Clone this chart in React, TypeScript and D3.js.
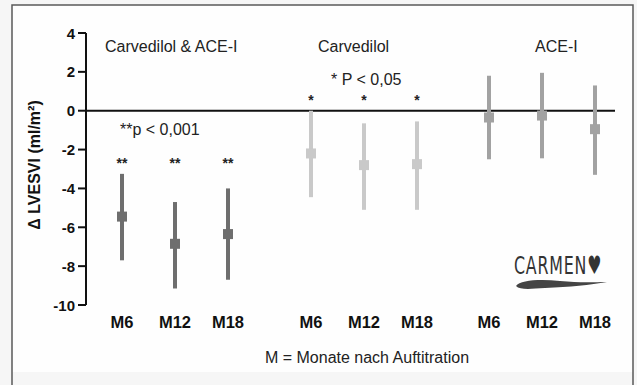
import React from 'react';
import * as d3 from 'd3';

// groups, time points and values (delta LVESVI, ml/m²)
const groups = ['Carvedilol & ACE-I', 'Carvedilol', 'ACE-I'];
const months = ['M6', 'M12', 'M18'];
const meanValues = [
  [-5.45, -6.85, -6.35],
  [-2.2, -2.8, -2.75],
  [-0.35, -0.25, -0.95],
];
const upperValues = [
  [-3.25, -4.7, -4.0],
  [0.0, -0.65, -0.55],
  [1.8, 1.95, 1.3],
];
const lowerValues = [
  [-7.7, -9.15, -8.7],
  [-4.45, -5.1, -5.1],
  [-2.5, -2.45, -3.3],
];
const significance = ['**', '*', ''];
const yTicks = [4, 2, 0, -2, -4, -6, -8, -10];
const groupColors = ['#6e6e6e', '#c9c9c9', '#a2a2a2'];

const W = 637;
const H = 385;
const FONT = 'Liberation Sans, Arial, sans-serif';

export default function App() {
  const y = d3.scaleLinear().domain([-10, 4]).range([305, 33]);
  // group centres are not evenly spaced in the original figure
  const xGroup = d3.scaleOrdinal<string, number>().domain(groups).range([175, 364, 542]);
  const xMonth = d3.scalePoint().domain(months).range([-53, 53]);
  const cx = (gi: number, mi: number) => xGroup(groups[gi]) + (xMonth(months[mi]) as number);

  const axisX = 86;
  const sq = 10;

  return (
    <svg width={W} height={H} style={{ position: 'absolute', left: 0, top: 0 }} fontFamily={FONT}>
      <rect x={0} y={0} width={W} height={H} fill="#f6f6f6" />
      <rect x={12} y={5} width={621} height={367} fill="#fefefe" />
      <path d={`M12,${H} V5 H633 V${H}`} fill="none" stroke="#5a5a5a" strokeWidth={1.5} />

      {/* y axis */}
      <line x1={axisX} x2={axisX} y1={y(4)} y2={y(-10)} stroke="#111" strokeWidth={2} />
      {yTicks.map(t => (
        <g key={t}>
          <line x1={axisX - 8} x2={axisX} y1={y(t)} y2={y(t)} stroke="#111" strokeWidth={2} />
          <text x={axisX - 11} y={y(t) + 5.5} textAnchor="end" fontSize={15} fontWeight="bold" fill="#111">
            {t}
          </text>
        </g>
      ))}
      <text
        transform={`translate(40,${165}) rotate(-90)`}
        textAnchor="middle"
        fontSize={16}
        fontWeight="bold"
        fill="#111"
      >
        Δ LVESVI (ml/m²)
      </text>

      {/* zero line */}
      <line x1={axisX} x2={615} y1={y(0)} y2={y(0)} stroke="#111" strokeWidth={2} />

      {/* group titles */}
      <text x={105} y={52} fontSize={16} fill="#222">Carvedilol &amp; ACE-I</text>
      <text x={318} y={52} fontSize={16} fill="#222">Carvedilol</text>
      <text x={535} y={52} fontSize={16} fill="#222">ACE-I</text>
      <text x={331} y={85} fontSize={16} fill="#222">* P &lt; 0,05</text>
      <text x={120} y={135} fontSize={16} fill="#222">**p &lt; 0,001</text>

      {/* error bars */}
      {groups.map((g, gi) =>
        months.map((m, mi) => {
          const x = cx(gi, mi);
          return (
            <g key={g + m}>
              <line
                x1={x}
                x2={x}
                y1={y(upperValues[gi][mi])}
                y2={y(lowerValues[gi][mi])}
                stroke={groupColors[gi]}
                strokeWidth={4}
              />
              <rect
                x={x - sq / 2}
                y={y(meanValues[gi][mi]) - sq / 2}
                width={sq}
                height={sq}
                fill={groupColors[gi]}
              />
              {significance[gi] && (
                <text
                  x={x}
                  y={gi === 0 ? 168 : 105}
                  textAnchor="middle"
                  fontSize={14}
                  fontWeight="bold"
                  fill="#222"
                >
                  {significance[gi]}
                </text>
              )}
              <text x={x} y={328} textAnchor="middle" fontSize={16.5} fontWeight="bold" fill="#111">
                {m}
              </text>
            </g>
          );
        })
      )}

      <text x={367} y={363} textAnchor="middle" fontSize={16} fill="#222">
        M = Monate nach Auftitration
      </text>

      {/* logo */}
      <text
        transform="translate(514,274) scale(0.8,1.15)"
        fontSize={22}
        fontFamily="DejaVu Sans Condensed, sans-serif"
        fill="#333"
        letterSpacing={1}
      >
        CARMEN♥
      </text>
      <path
        d="M516,286 C520,280 540,279 560,281 C580,283 595,282 607,282 C590,285 570,287 545,288 C530,289 520,290 516,286 Z"
        fill="#444"
      />
    </svg>
  );
}
